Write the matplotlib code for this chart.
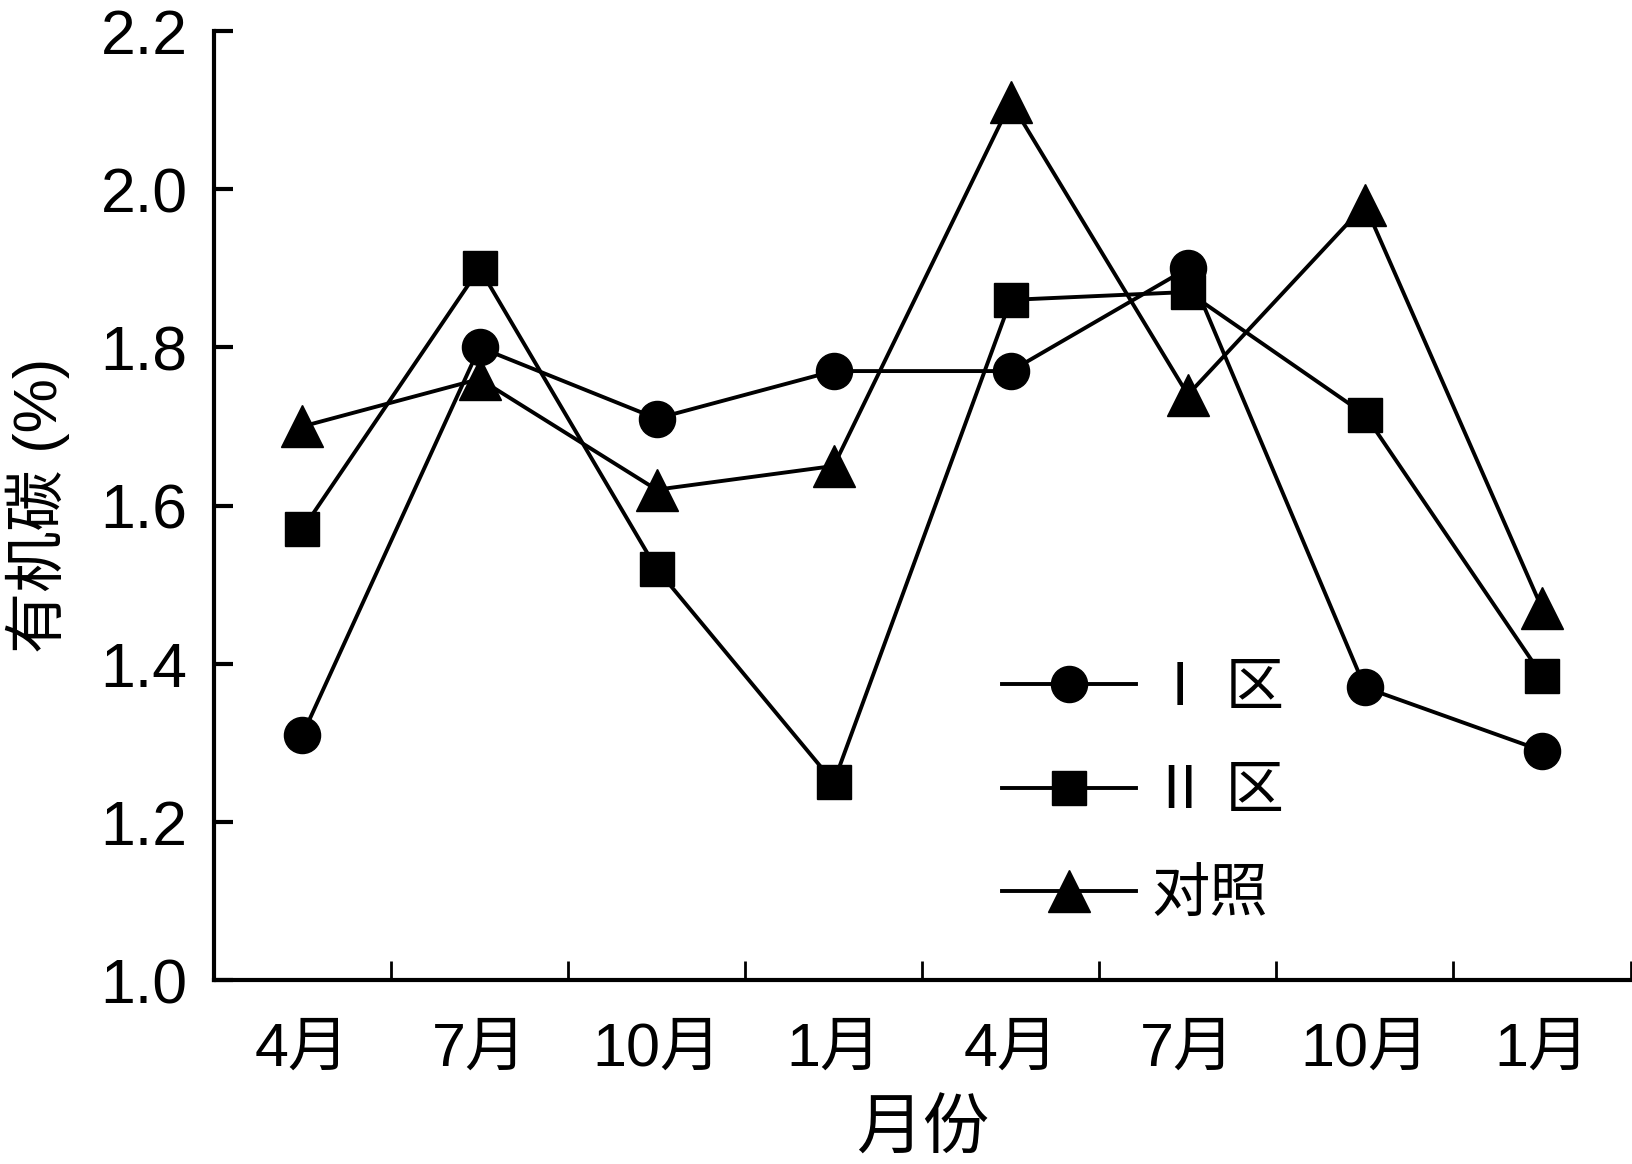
import matplotlib
matplotlib.use("Agg")
import matplotlib.pyplot as plt
from matplotlib.ticker import FixedLocator, NullFormatter

plt.rcParams['font.family'] = ['Liberation Sans', 'Noto Sans CJK SC', 'DejaVu Sans']

months = ['4月', '7月', '10月', '1月', '4月', '7月', '10月', '1月']
zone1 = [1.31, 1.80, 1.71, 1.77, 1.77, 1.90, 1.37, 1.29]
zone2 = [1.57, 1.90, 1.52, 1.25, 1.86, 1.87, 1.715, 1.385]
control = [1.70, 1.76, 1.62, 1.65, 2.11, 1.74, 1.98, 1.47]
labels = ['Ⅰ 区', 'Ⅱ 区', '对照']
yticks = [1.0, 1.2, 1.4, 1.6, 1.8, 2.0, 2.2]

fig = plt.figure(figsize=(16.33, 11.64), dpi=100)
ax = fig.add_axes([0.131, 0.158, 0.8675, 0.8154])

x = list(range(len(months)))
lw = 2.8
ax.plot(x, zone1, '-o', color='black', lw=lw, ms=26, label=labels[0])
ax.plot(x, zone2, '-s', color='black', lw=lw, ms=25, label=labels[1])
ax.plot(x, control, '-^', color='black', lw=lw, ms=30, label=labels[2])

ax.set_xlim(-0.5, len(months) - 0.5)
ax.set_ylim(1.0, 2.2)
ax.set_yticks(yticks)
ax.set_yticklabels([f'{v:.1f}' for v in yticks])
ax.set_xticks(x)
ax.set_xticklabels(months)
ax.xaxis.set_minor_locator(FixedLocator([i + 0.5 for i in range(len(months))]))
ax.xaxis.set_minor_formatter(NullFormatter())

ax.tick_params(axis='x', which='major', length=0, pad=30, labelsize=44)
ax.tick_params(axis='x', which='minor', direction='in', length=14, width=2)
ax.tick_params(axis='y', which='major', direction='in', length=13.5, width=3, pad=19, labelsize=45)

for s in ['top', 'right']:
    ax.spines[s].set_visible(False)
for s in ['left', 'bottom']:
    ax.spines[s].set_linewidth(3)

ax.set_ylabel('有机碳 (%)', fontsize=44, labelpad=22)
ax.set_xlabel('月份', fontsize=48, labelpad=16)

ax.legend(loc='upper left', bbox_to_anchor=(0.54, 0.359), frameon=False,
          fontsize=42, handlelength=2.3, labelspacing=0.85, handletextpad=0.25,
          borderaxespad=0)

fig.savefig('out.png', dpi=100)
